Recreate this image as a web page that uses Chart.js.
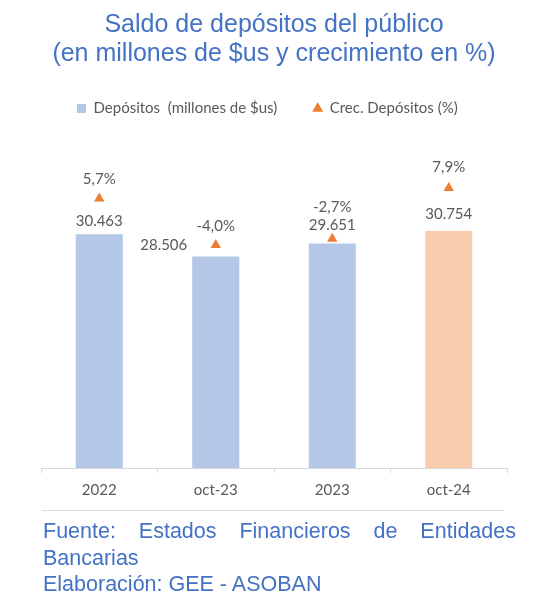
<!DOCTYPE html>
<html>
<head>
<meta charset="utf-8">
<script src="https://cdn.jsdelivr.net/npm/chart.js@4.4.1/dist/chart.umd.min.js"></script>
<style>
  body { margin: 0; background: #fff; width: 540px; height: 600px; overflow: hidden; }
  #wrap { position: relative; width: 540px; height: 600px; }
  #sep { position: absolute; left: 42px; top: 510px; width: 462px; height: 0; border-top: 1px solid #d9d9d9; }
  #foot { position: absolute; left: 43px; top: 518px; width: 473px; font-family: "Liberation Sans", Arial, sans-serif; font-size: 21.5px; line-height: 26.6px; color: #4472c4; }
  .just { text-align: justify; text-align-last: justify; }
</style>
</head>
<body>
<div id="wrap">
  <canvas id="chart" width="540" height="515"></canvas>
  <div id="sep"></div>
  <div id="foot">
    <div class="just">Fuente: Estados Financieros de Entidades</div>
    <div>Bancarias</div>
    <div>Elaboración: GEE - ASOBAN</div>
  </div>
</div>
<script>
const categories = ['2022', 'oct-23', '2023', 'oct-24'];
const depositos = [30463, 28506, 29651, 30754];
const crecimiento = [5.7, -4.0, -2.7, 7.9];

const barColors = ['#b4c7e7', '#b4c7e7', '#b4c7e7', '#f8cbad'];
const gray = '#595959';

const fmtMiles = v => String(v).replace(/\B(?=(\d{3})+(?!\d))/g, '.');
const fmtPct = v => v.toFixed(1).replace('.', ',') + '%';

// where each value label sits relative to its bar top / triangle
const barLabelOffsets = [[0, -13], [-52, -11], [0, -18], [0, -16.5]];
const pctLabelOffsets = [[0, -19.5], [0, -19], [0, -32], [0, -20.5]];

const valueLabels = {
  id: 'valueLabels',
  afterDatasetsDraw(chart) {
    const ctx = chart.ctx;
    ctx.save();
    ctx.font = '15px Lato';
    ctx.fillStyle = gray;
    ctx.textAlign = 'center';
    ctx.textBaseline = 'middle';
    chart.getDatasetMeta(0).data.forEach((el, i) => {
      const o = barLabelOffsets[i];
      ctx.fillText(fmtMiles(depositos[i]), el.x + o[0], el.y + o[1]);
    });
    chart.getDatasetMeta(1).data.forEach((el, i) => {
      const o = pctLabelOffsets[i];
      ctx.fillText(fmtPct(crecimiento[i]), el.x + o[0], el.y + o[1]);
    });
    ctx.restore();
  }
};

new Chart(document.getElementById('chart'), {
  type: 'bar',
  data: {
    labels: categories,
    datasets: [{
      label: 'Depósitos  (millones de $us)',
      data: depositos,
      backgroundColor: barColors,
      barPercentage: 0.404,
      categoryPercentage: 1,
      yAxisID: 'y',
      order: 2
    }, {
      type: 'line',
      label: 'Crec. Depósitos (%)',
      data: crecimiento,
      showLine: false,
      pointStyle: 'triangle',
      pointRadius: 6,
      pointHoverRadius: 6,
      pointBackgroundColor: '#ed7d31',
      pointBorderColor: '#ed7d31',
      pointBorderWidth: 0,
      backgroundColor: '#ed7d31',
      borderColor: '#ed7d31',
      yAxisID: 'y1',
      order: 1
    }]
  },
  options: {
    responsive: false,
    animation: false,
    layout: { padding: { left: 41, right: 33, top: 0, bottom: 8 } },
    plugins: {
      title: {
        display: true,
        text: ['Saldo de depósitos del público', '(en millones de $us y crecimiento en %)'],
        color: '#4472c4',
        font: { family: '"Liberation Sans", Arial, sans-serif', size: 25, weight: 'normal', lineHeight: 1.14 },
        padding: { top: 11.25, bottom: -3.25 }
      },
      legend: {
        align: 'start',
        labels: {
          color: gray,
          font: { family: 'Lato', size: 15 },
          usePointStyle: true,
          boxHeight: 9,
          boxWidth: 9,
          padding: 36,
          generateLabels(chart) {
            return chart.data.datasets.map((ds, i) => ({
              text: ds.label,
              fillStyle: i === 0 ? '#b4c7e7' : '#ed7d31',
              strokeStyle: i === 0 ? '#b4c7e7' : '#ed7d31',
              lineWidth: 0,
              pointStyle: i === 0 ? 'rect' : 'triangle',
              fontColor: gray,
              datasetIndex: i
            }));
          }
        }
      },
      tooltip: { enabled: false }
    },
    scales: {
      x: {
        grid: { display: true, drawOnChartArea: false, offset: true, tickLength: 5, color: '#d9d9d9' },
        border: { color: '#d9d9d9' },
        ticks: { color: gray, font: { family: 'Lato', size: 15 }, padding: 8 }
      },
      y: { display: false, min: 10000, max: 39940 },
      y1: { display: false, min: -50.5, max: 20.8 }
    }
  },
  plugins: [valueLabels]
});
</script>
</body>
</html>
